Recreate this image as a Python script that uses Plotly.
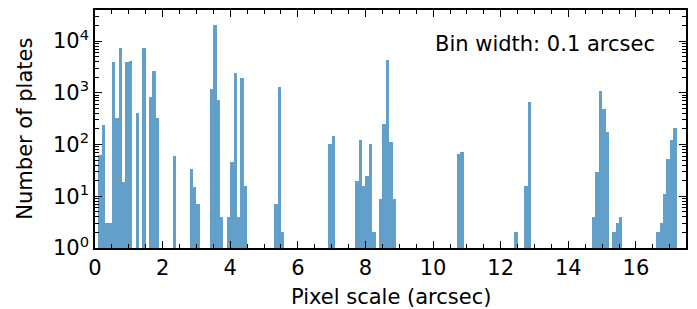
import plotly.graph_objects as go

# Histogram of plate pixel scales (bin width 0.1 arcsec); left bin edges and counts
bin_left = [0.1, 0.2, 0.3, 0.4, 0.5, 0.6, 0.7, 0.8, 0.9, 1.0, 1.2, 1.4, 1.6, 1.7, 1.8,
            2.3, 2.8, 2.9, 3.0, 3.4, 3.5, 3.6, 3.7, 3.9, 4.0, 4.1, 4.2, 4.3, 4.4,
            5.3, 5.4, 5.5, 6.9, 7.0, 7.7, 7.8, 7.9, 8.0, 8.1, 8.2, 8.4, 8.5, 8.6, 8.7, 8.8,
            10.7, 10.8, 12.4, 12.7, 12.8, 14.7, 14.8, 14.9, 15.0, 15.1, 15.3, 15.4, 15.5,
            16.6, 16.7, 16.8, 16.9, 17.0, 17.1]
counts = [63, 240, 3, 3, 4000, 320, 7300, 19, 4000, 4200, 400, 7300, 830, 2600, 320,
          59, 33, 15, 7, 1200, 20000, 730, 4, 4, 46, 2460, 4, 1900, 16,
          7, 1290, 2, 102, 149, 20, 123, 16, 25, 103, 2, 9, 247, 4240, 114, 9,
          66, 73, 2, 16, 655, 4, 30, 1090, 490, 173, 2, 3, 4,
          2, 3, 11, 53, 125, 206]
bin_width = 0.1

x_ticks = [0, 2, 4, 6, 8, 10, 12, 14, 16]
y_ticks = [1, 10, 100, 1000, 10000]
y_tick_text = ["10<sup>0</sup>", "10<sup>1</sup>", "10<sup>2</sup>", "10<sup>3</sup>", "10<sup>4</sup>"]

centers = [b + bin_width / 2 for b in bin_left]
y_minor = [m * 10 ** k for k in range(0, 5) for m in range(2, 10)]

font = "DejaVu Sans"
fs = 21
fig = go.Figure()
fig.add_trace(go.Bar(
    x=centers, y=counts, width=bin_width,
    marker=dict(color="rgba(31,119,180,0.7)", line=dict(width=0)),
    showlegend=False,
))

axis_common = dict(
    showline=True, linecolor="black", linewidth=1.6, mirror="allticks",
    ticks="inside", ticklen=7, tickwidth=1.4, tickcolor="black",
    showgrid=False, zeroline=False, automargin=False,
    tickfont=dict(family=font, size=fs, color="black"),
)

fig.update_xaxes(
    range=[0, 17.48], tickvals=x_ticks,
    minor=dict(dtick=0.5, tick0=0, ticks="inside", ticklen=4, tickwidth=1, tickcolor="black", showgrid=False),
    **axis_common,
)
fig.update_yaxes(
    type="log", range=[0, 4.6], tickvals=y_ticks, ticktext=y_tick_text,
    minor=dict(tickvals=y_minor, ticks="inside", ticklen=4, tickwidth=1, tickcolor="black", showgrid=False),
    **axis_common,
)

# Axis titles placed as annotations in pixel-accurate positions
fig.add_annotation(
    xref="paper", yref="paper", x=0.5, y=-0.205, xanchor="center", yanchor="middle",
    text="Pixel scale (arcsec)", showarrow=False,
    font=dict(family=font, size=fs, color="black"),
)
fig.add_annotation(
    xref="paper", yref="paper", x=-0.119, y=0.5, xanchor="center", yanchor="middle",
    text="Number of plates", showarrow=False, textangle=-90,
    font=dict(family=font, size=fs, color="black"),
)
fig.add_annotation(
    xref="paper", yref="paper", x=0.951, y=0.857, xanchor="right", yanchor="middle",
    text="Bin width: 0.1 arcsec", showarrow=False,
    font=dict(family=font, size=fs, color="black"),
)

fig.update_layout(
    width=697, height=309,
    margin=dict(l=95, r=11, t=10, b=61),
    paper_bgcolor="white", plot_bgcolor="white",
    bargap=0,
)

fig.write_html(
    "out.html",
    config={"displayModeBar": False},
    post_script="document.body.style.margin='0';document.body.style.overflow='hidden';",
)
